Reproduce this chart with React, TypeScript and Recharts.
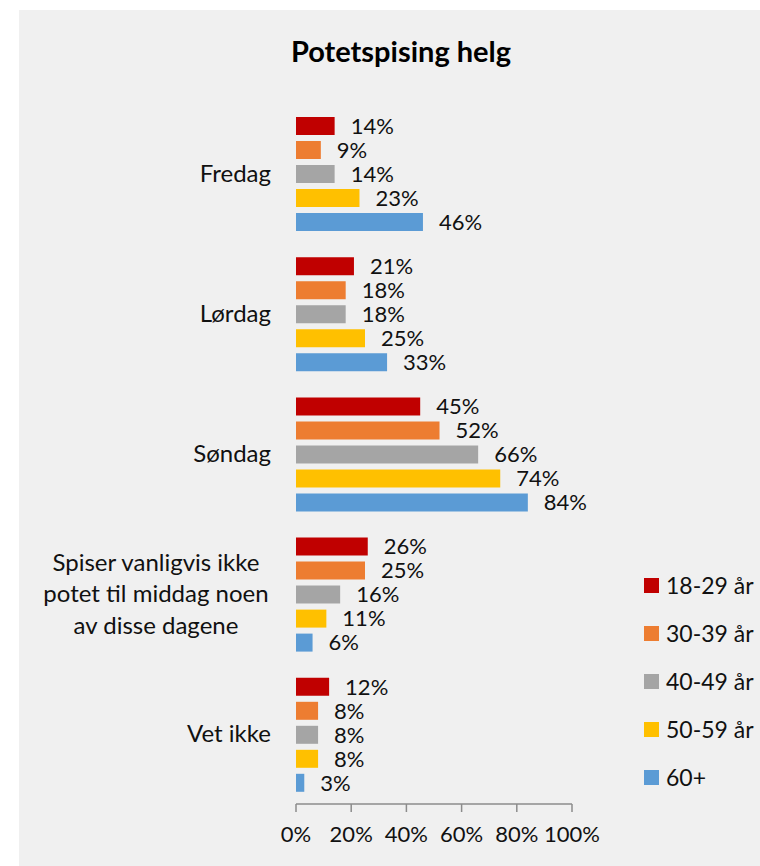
import React from 'react';
import { BarChart, Bar, XAxis, YAxis, LabelList, Legend } from 'recharts';

const categories = [
  'Fredag',
  'Lørdag',
  'Søndag',
  'Spiser vanligvis ikke\npotet til middag noen\nav disse dagene',
  'Vet ikke',
];
const seriesNames = ['18-29 år', '30-39 år', '40-49 år', '50-59 år', '60+'];
const seriesKeys = ['a18', 'a30', 'a40', 'a50', 'a60'];
const colors = ['#c00000', '#ed7d31', '#a5a5a5', '#ffc000', '#5b9bd5'];
const age18_29 = [14, 21, 45, 26, 12];
const age30_39 = [9, 18, 52, 25, 8];
const age40_49 = [14, 18, 66, 16, 8];
const age50_59 = [23, 25, 74, 11, 8];
const age60plus = [46, 33, 84, 6, 3];
const xTicks = [0, 20, 40, 60, 80, 100];

const seriesValues = [age18_29, age30_39, age40_49, age50_59, age60plus];
const data = categories.map((c, i) => {
  const row: any = { name: c };
  seriesKeys.forEach((k, s) => {
    row[k] = seriesValues[s][i];
  });
  return row;
});

const FONT = 'Lato, "Noto Sans", sans-serif';

const CategoryTick = (props: any) => {
  const { x, y, payload } = props;
  const lines: string[] = String(payload.value).split('\n');
  if (lines.length === 1) {
    return (
      <text x={x} y={y} dy="0.35em" textAnchor="end" fill="#111" fontSize={24} fontFamily={FONT}>
        {lines[0]}
      </text>
    );
  }
  const lh = 31.5;
  const start = -((lines.length - 1) * lh) / 2;
  return (
    <text x={x - 115} y={y} textAnchor="middle" fill="#111" fontSize={24} fontFamily={FONT}>
      {lines.map((l, i) => (
        <tspan key={i} x={x - 115} y={y + start + i * lh} dy="0.35em">
          {l}
        </tspan>
      ))}
    </text>
  );
};

const LegendContent = () => (
  <div style={{ fontFamily: FONT, fontSize: 23, color: '#111' }}>
    {seriesNames.map((n, i) => (
      <div key={n} style={{ display: 'flex', alignItems: 'center', height: 48 }}>
        <div style={{ width: 15, height: 15, background: colors[i], marginRight: 7 }} />
        <span>{n}</span>
      </div>
    ))}
  </div>
);

export default function App() {
  return (
    <div style={{ position: 'absolute', left: 0, top: 0, width: 760, height: 866, background: '#fff' }}>
      <div
        style={{
          position: 'absolute',
          left: 19,
          top: 10,
          width: 741,
          height: 856,
          background: '#f0f0f0',
        }}
      />
      <div
        style={{
          position: 'absolute',
          left: 0,
          width: 802,
          top: 33,
          textAlign: 'center',
          fontFamily: FONT,
          fontWeight: 700,
          fontSize: 29,
          color: '#000',
        }}
      >
        Potetspising helg
      </div>
      <div style={{ position: 'absolute', left: 0, top: 0 }}>
        <BarChart
          width={760}
          height={866}
          layout="vertical"
          data={data}
          margin={{ top: 103, right: 188, bottom: 12, left: 0 }}
          barCategoryGap={14}
          barGap={6}
        >
          <XAxis
            type="number"
            domain={[0, 100]}
            ticks={xTicks}
            tickFormatter={(v: number) => `${v}%`}
            height={50}
            axisLine={{ stroke: '#8c8c8c', strokeWidth: 1.5 }}
            tickLine={{ stroke: '#8c8c8c', strokeWidth: 1.5 }}
            tickSize={8}
            tickMargin={14}
            tick={{ fill: '#111', fontSize: 22, fontFamily: FONT }}
            interval={0}
          />
          <YAxis
            type="category"
            dataKey="name"
            width={296}
            axisLine={false}
            tickLine={false}
            tickSize={0}
            tickMargin={25}
            tick={<CategoryTick />}
            interval={0}
          />
          <Legend
            layout="vertical"
            align="center"
            verticalAlign="middle"
            wrapperStyle={{ left: 644, top: 561, width: 116 }}
            content={<LegendContent />}
          />
          {seriesKeys.map((k, i) => (
            <Bar key={k} dataKey={k} name={seriesNames[i]} fill={colors[i]} isAnimationActive={false}>
              <LabelList
                dataKey={k}
                position="right"
                offset={16}
                formatter={(v: any) => `${v}%`}
                fill="#111"
                fontSize={22}
                fontFamily={FONT}
              />
            </Bar>
          ))}
        </BarChart>
      </div>
    </div>
  );
}
